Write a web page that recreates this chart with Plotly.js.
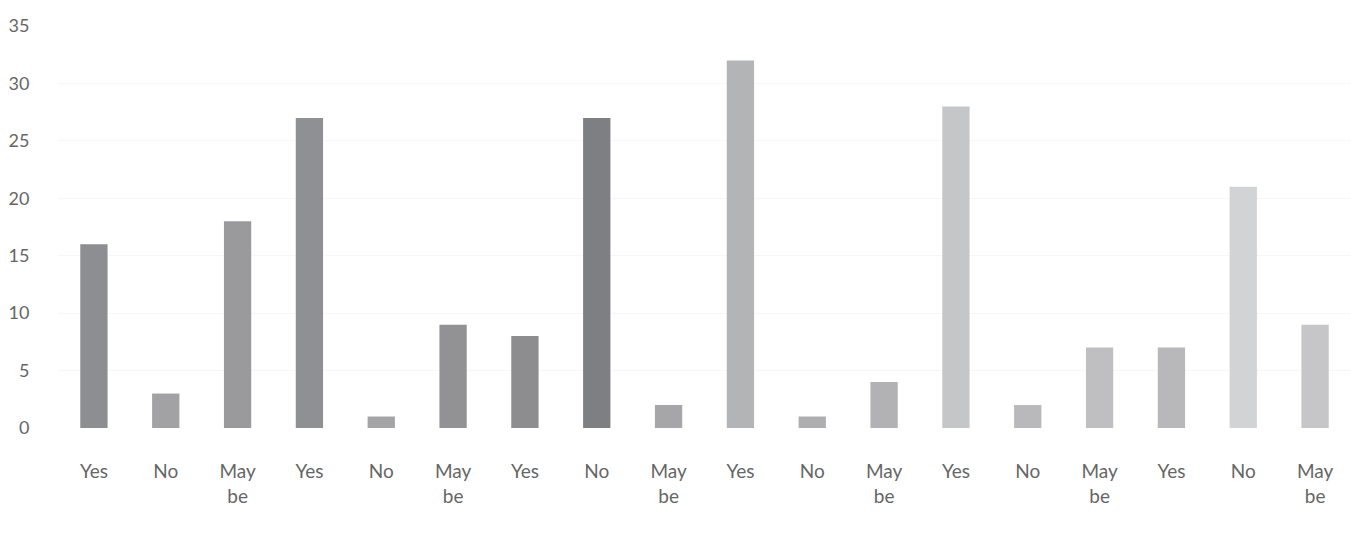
<!DOCTYPE html>
<html>
<head>
<meta charset="utf-8">
<script src="https://cdn.plot.ly/plotly-3.0.1.min.js"></script>
<style>html,body{margin:0;padding:0;background:#fff;}#chart{width:1351px;height:541px;}</style>
</head>
<body>
<div id="chart"></div>
<script>
const categories = ["Yes","No","May<br>be","Yes","No","May<br>be","Yes","No","May<br>be","Yes","No","May<br>be","Yes","No","May<br>be","Yes","No","May<br>be"];
const values = [16, 3, 18, 27, 1, 9, 8, 27, 2, 32, 1, 4, 28, 2, 7, 7, 21, 9];
const barColors = ["#8c8e92","#a2a2a4","#9a9a9c","#8f9093","#a4a4a6","#929294","#8d8d90","#7e7f82","#a6a6a8","#b3b4b6","#aeaeb0","#b2b2b4","#c5c6c8","#b9b9bb","#bfbfc1","#b8b8ba","#d2d3d5","#c6c6c8"];
const yTicks = [0, 5, 10, 15, 20, 25, 30, 35];

const positions = categories.map((_, i) => i);

Plotly.newPlot("chart", [{
  type: "bar",
  x: positions,
  y: values,
  marker: {color: barColors, line: {width: 0}},
  hoverinfo: "y"
}], {
  width: 1351, height: 541,
  margin: {l: 58, r: 0, t: 26, b: 113},
  paper_bgcolor: "#fff", plot_bgcolor: "#fff",
  bargap: 0.62,
  showlegend: false,
  font: {family: "Lato, 'Open Sans', sans-serif", color: "#6a6a6a", size: 18},
  xaxis: {
    range: [-0.5, 17.5],
    tickmode: "array", tickvals: positions, ticktext: categories,
    showgrid: false, zeroline: false, showline: false,
    ticks: "outside", ticklen: 26, tickcolor: "rgba(0,0,0,0)",
    tickfont: {size: 19, color: "#666"}
  },
  yaxis: {
    range: [0, 35],
    tickmode: "array", tickvals: yTicks,
    showgrid: true, gridcolor: "#f6f6f6", zeroline: false, showline: false,
    ticks: "outside", ticklen: 24, tickcolor: "rgba(0,0,0,0)",
    tickfont: {size: 18, color: "#666"}
  }
}, {displayModeBar: false, staticPlot: true});
</script>
</body>
</html>
